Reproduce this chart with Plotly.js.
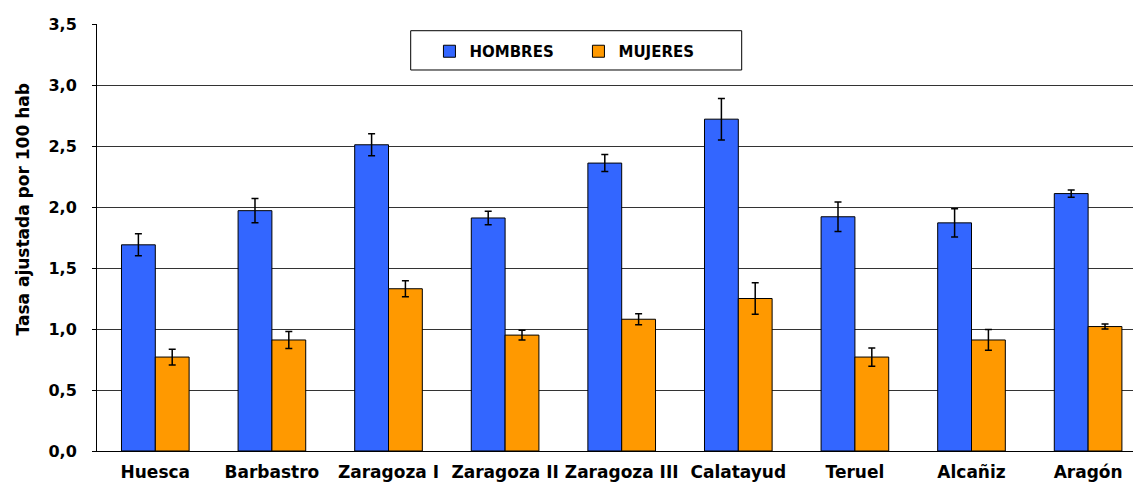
<!DOCTYPE html>
<html>
<head>
<meta charset="utf-8">
<script src="https://cdn.plot.ly/plotly-3.0.1.min.js"></script>
<style>html,body{margin:0;padding:0;background:#fff;}#chart{width:1133px;height:483px;}</style>
</head>
<body>
<div id="chart"></div>
<script>
const categories = ["Huesca", "Barbastro", "Zaragoza I", "Zaragoza II", "Zaragoza III", "Calatayud", "Teruel", "Alcañiz", "Aragón"];
const hombres = [1.69, 1.97, 2.51, 1.91, 2.36, 2.72, 1.92, 1.87, 2.11];
const hombresErr = [0.09, 0.10, 0.09, 0.055, 0.07, 0.17, 0.12, 0.115, 0.03];
const mujeres = [0.77, 0.91, 1.33, 0.95, 1.08, 1.25, 0.77, 0.91, 1.02];
const mujeresErr = [0.065, 0.07, 0.065, 0.04, 0.045, 0.13, 0.075, 0.085, 0.02];
const yTicks = [0, 0.5, 1.0, 1.5, 2.0, 2.5, 3.0, 3.5];
const yTitle = "Tasa ajustada por 100 hab";

const fam = "DejaVu Sans, Liberation Sans, Arial, sans-serif";
const tickFontX = {family: fam, size: 17, color: "#000", weight: "bold"};
const tickFontY = {family: fam, size: 16, color: "#000", weight: "bold"};
const titleFont = {family: fam, size: 17, color: "#000", weight: "bold"};

const traces = [
  {type: "bar", name: "HOMBRES", x: categories, y: hombres,
   marker: {color: "#3366FF", line: {color: "#000", width: 1}},
   error_y: {type: "data", array: hombresErr, visible: true, color: "#000", thickness: 1.5, width: 3.5}},
  {type: "bar", name: "MUJERES", x: categories, y: mujeres,
   marker: {color: "#FF9900", line: {color: "#000", width: 1}},
   error_y: {type: "data", array: mujeresErr, visible: true, color: "#000", thickness: 1.5, width: 3.5}}
];

const layout = {
  width: 1133, height: 483,
  margin: {l: 97, r: 0, t: 24, b: 32},
  paper_bgcolor: "#fff", plot_bgcolor: "#fff",
  separators: ",.",
  font: {family: fam, color: "#000"},
  barmode: "group", bargap: 0.42, bargroupgap: 0,
  xaxis: {type: "category", range: [-0.5, 8.385], showgrid: false, showline: true, linecolor: "#000", linewidth: 1,
          ticks: "", tickfont: tickFontX, ticklabelstandoff: 6, fixedrange: true},
  yaxis: {range: [0, 3.5], tickvals: yTicks, tickformat: ".1f", showgrid: true, gridcolor: "#333", gridwidth: 1,
          showline: true, linecolor: "#000", linewidth: 1, zeroline: false, ticks: "outside", ticklen: 4,
          tickcolor: "#000", ticklabelstandoff: 12, tickfont: tickFontY},
  annotations: [{text: yTitle, xref: "paper", yref: "paper", x: -0.0705, y: 0.5656, xanchor: "center", yanchor: "middle",
                 textangle: -90, showarrow: false, font: titleFont}],
  shapes: [{type: "rect", xref: "paper", yref: "paper", x0: 0.3028, x1: 0.6223, y0: 0.8923, y1: 0.9843,
            fillcolor: "#fff", line: {color: "#000", width: 1}, layer: "above"}],
  legend: {orientation: "h", x: 0.3209, y: 0.9356, xanchor: "left", yanchor: "middle", bgcolor: "rgba(0,0,0,0)",
           font: {family: fam, size: 15, color: "#000", weight: "bold"},
           entrywidth: 104, entrywidthmode: "pixels", itemwidth: 30, traceorder: "normal"},
  showlegend: true
};

Plotly.newPlot("chart", traces, layout, {displayModeBar: false, staticPlot: true});
</script>
</body>
</html>
